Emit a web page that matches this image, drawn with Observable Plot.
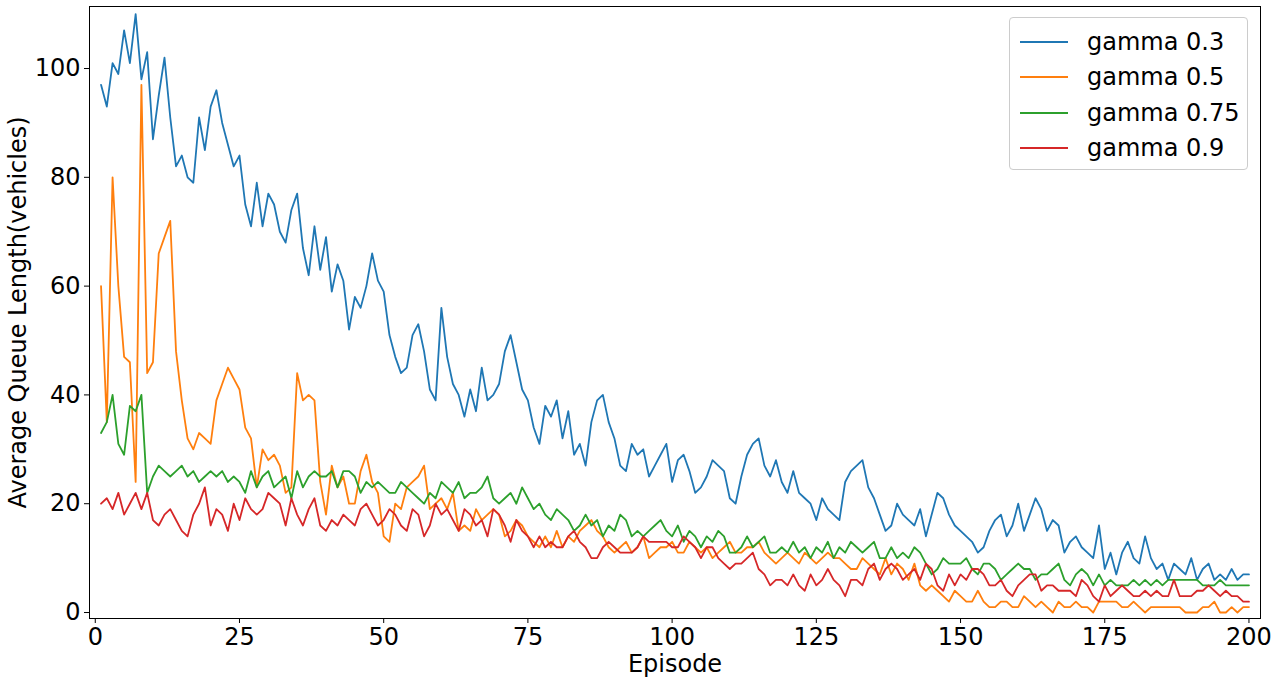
<!DOCTYPE html>
<html>
<head>
<meta charset="utf-8">
<script src="https://cdn.jsdelivr.net/npm/d3@7"></script>
<script src="https://cdn.jsdelivr.net/npm/@observablehq/plot@0.6"></script>
<style>
  html, body { margin: 0; padding: 0; background: white; }
  #wrap { position: relative; width: 1278px; height: 684px; font-family: "DejaVu Sans", sans-serif; }
  #legend { position: absolute; left: 1009px; top: 17px; width: 237px; height: 145px;
    border: 1px solid #cccccc; border-radius: 4px; background: rgba(255,255,255,0.8);
    box-sizing: content-box; padding-top: 6px; }
  .row { display: flex; align-items: center; height: 35.5px; font-size: 24px; color: black; }
  .sw { width: 48px; height: 0; border-top: 2px solid; margin-left: 10px; margin-right: 19px; }
</style>
</head>
<body>
<div id="wrap"><div id="legend"></div></div>
<script>
const seriesNames = ["gamma 0.3", "gamma 0.5", "gamma 0.75", "gamma 0.9"];
const seriesColors = ["#1f77b4", "#ff7f0e", "#2ca02c", "#d62728"];
const xTicks = [0, 25, 50, 75, 100, 125, 150, 175, 200];
const yTicks = [0, 20, 40, 60, 80, 100];

const gamma03 = [97,93,101,99,107,101,110,98,103,87,95,102,91,82,84,80,79,91,85,93,
96,90,86,82,84,75,71,79,71,77,75,70,68,74,77,67,62,71,63,69,
59,64,61,52,58,56,60,66,61,59,51,47,44,45,51,53,48,41,39,56,
47,42,40,36,41,37,45,39,40,42,48,51,46,41,39,34,31,38,36,39,
32,37,29,31,27,35,39,40,35,32,27,26,31,29,30,25,27,29,31,24,
28,29,26,22,23,25,28,27,26,21,20,25,29,31,32,27,25,28,24,22,
26,22,21,20,17,21,19,18,17,24,26,27,28,23,21,18,15,16,20,18,
17,16,19,14,18,22,21,18,16,15,14,13,11,12,15,17,18,14,16,20,
15,18,21,19,15,17,16,11,13,14,12,11,10,16,8,11,7,11,13,10,
9,14,10,8,9,6,9,8,7,10,6,8,9,6,7,6,8,6,7,7];

const gamma05 = [60,35,80,60,47,46,24,97,44,46,66,69,72,48,39,32,30,33,32,31,
39,42,45,43,41,34,32,23,30,28,29,27,22,23,44,39,40,39,24,18,
27,23,25,20,20,26,29,24,22,14,13,20,19,23,24,25,27,19,20,21,
19,22,15,16,15,19,17,18,19,18,14,15,17,16,14,13,12,14,12,15,
12,14,13,15,16,17,15,14,12,11,12,13,11,12,14,10,11,12,12,13,
11,11,13,12,11,12,10,11,12,13,11,11,12,12,13,11,10,9,10,11,
10,9,11,10,9,10,11,10,10,9,8,8,10,9,8,7,10,7,9,8,
6,9,5,4,5,4,3,2,4,3,2,2,4,2,1,1,2,2,1,1,
3,2,1,2,1,0,2,1,1,2,1,1,0,2,2,2,2,1,1,2,
1,0,1,1,1,1,1,1,0,0,0,1,1,2,0,0,1,0,1,1];

const gamma075 = [33,35,40,31,29,38,37,40,22,25,27,26,25,26,27,25,26,24,25,26,
25,26,24,25,24,22,26,23,25,26,23,24,25,21,26,23,25,26,25,25,
26,23,26,26,25,22,24,23,24,23,22,22,24,23,22,21,20,22,21,24,
23,22,24,21,22,22,23,25,21,20,21,22,20,23,21,19,20,18,17,19,
18,17,15,16,18,16,17,14,16,15,18,17,14,15,14,15,16,17,15,14,
16,13,15,14,12,14,13,15,14,11,11,12,14,12,13,14,11,11,12,11,
13,11,12,10,12,11,13,10,12,11,13,12,11,12,13,10,10,12,10,11,
10,12,11,9,7,8,10,9,9,9,10,8,7,9,9,8,6,7,8,9,
8,8,6,7,7,8,9,6,5,7,8,7,5,7,5,6,5,5,5,6,
5,6,5,6,5,6,6,6,6,6,6,5,5,5,6,5,5,5,5,5];

const gamma09 = [20,21,19,22,18,20,22,19,22,17,16,18,19,17,15,14,18,20,23,16,
19,18,15,20,17,21,19,18,19,22,21,20,16,21,18,16,19,21,16,15,
17,16,18,17,16,19,20,18,16,17,19,18,16,15,19,18,14,16,20,18,
19,17,15,19,18,16,17,14,19,18,16,13,17,15,14,12,14,12,13,12,
12,14,15,13,12,10,10,12,13,12,11,11,11,12,14,13,13,13,13,12,
12,14,13,12,10,12,12,10,9,8,9,9,10,11,8,7,5,6,6,5,
7,5,4,7,5,6,8,6,5,3,6,6,5,8,9,6,8,9,8,6,
7,8,6,9,8,5,4,7,5,7,6,8,8,7,5,5,6,4,3,5,
6,7,7,4,5,5,4,4,4,3,6,5,3,2,5,3,4,5,4,3,
3,4,3,4,3,3,6,3,3,3,4,4,5,4,3,4,3,3,2,2];

const seriesValues = [gamma03, gamma05, gamma075, gamma09];
const data = seriesNames.flatMap((name, i) =>
  seriesValues[i].map((v, j) => ({episode: j + 1, value: v, series: name})));

const chart = Plot.plot({
  width: 1278,
  height: 684,
  marginLeft: 89,
  marginRight: 18,
  marginTop: 6,
  marginBottom: 66,
  x: {domain: [-1, 202]},
  y: {domain: [-1.1, 111.4]},
  color: {domain: seriesNames, range: seriesColors},
  style: {fontFamily: "DejaVu Sans", fontSize: "24px", color: "black", background: "white", overflow: "visible"},
  marks: [
    Plot.lineY(data, {x: "episode", y: "value", stroke: "series", strokeWidth: 1.8}),
    Plot.frame({stroke: "black", strokeWidth: 1}),
    Plot.axisX({ticks: xTicks, tickSize: 5, tickPadding: 4, fontSize: 24, label: null}),
    Plot.axisY({ticks: yTicks, tickSize: 5, tickPadding: 4, fontSize: 24, label: null}),
    Plot.text(["Episode"], {frameAnchor: "bottom", dy: 46, fontSize: 24, textAnchor: "middle", lineAnchor: "middle", text: d => d}),
    Plot.text(["Average Queue Length(vehicles)"], {frameAnchor: "left", dx: -71, rotate: -90, fontSize: 24, textAnchor: "middle", lineAnchor: "middle", text: d => d})
  ]
});
const wrap = document.getElementById("wrap");
wrap.insertBefore(chart, wrap.firstChild);

const legend = document.getElementById("legend");
seriesNames.forEach((name, i) => {
  const row = document.createElement("div");
  row.className = "row";
  const sw = document.createElement("div");
  sw.className = "sw";
  sw.style.borderTopColor = seriesColors[i];
  const label = document.createElement("span");
  label.textContent = name;
  row.appendChild(sw);
  row.appendChild(label);
  legend.appendChild(row);
});
</script>
</body>
</html>
